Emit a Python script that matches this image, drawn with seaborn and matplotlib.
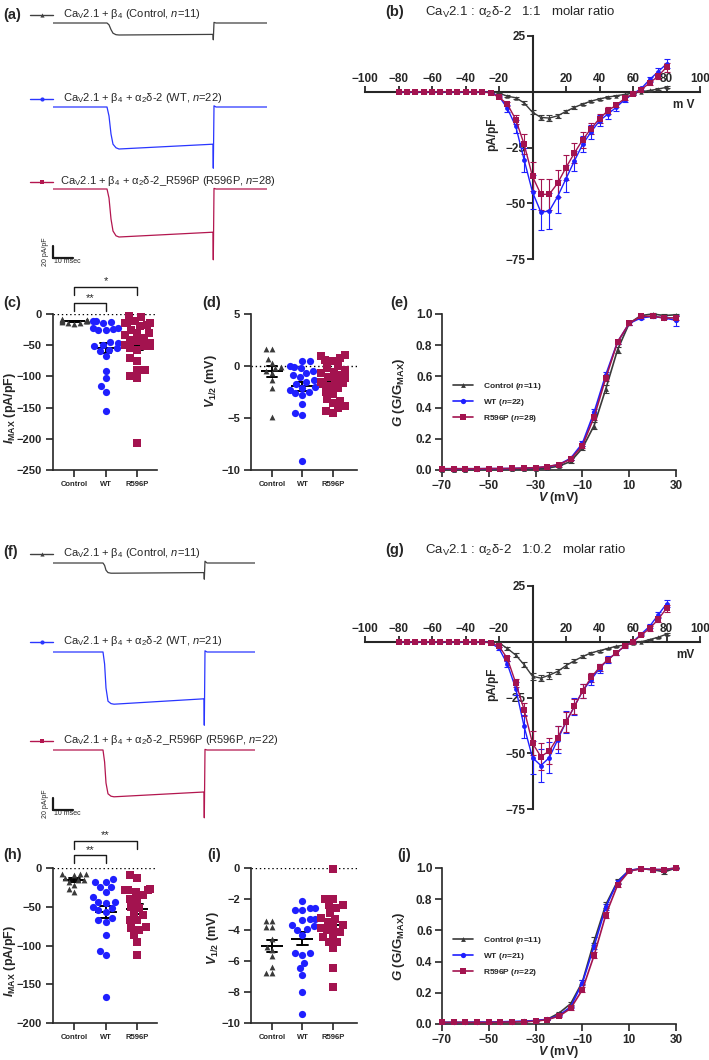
import numpy as np
import pandas as pd
import matplotlib
matplotlib.use("Agg")
import matplotlib.pyplot as plt
import seaborn as sns

# ---------------- data ----------------
groups = ["Control", "WT", "R596P"]

# example current traces (time in ms, current in pA/pF)
t_a = [0, 27, 28, 29, 30, 31.5, 33, 80, 80.15, 80.5, 81.5, 107]
ctrl_trace_a = [0, 0, -3, -11, -17, -19.5, -20, -19, -28, 1, 0, 0]
wt_trace_a = [0, 0, -15, -45, -62, -68, -70, -62, -102, 2, 0, 0]
mut_trace_a = [0, 0, -15, -50, -70, -78, -80, -72, -118, 1, 0, 0]

t_f = [0, 25, 25.8, 26.5, 27.5, 29, 30.5, 75.5, 75.65, 76, 77, 101]
ctrl_trace_f = [0, 0, -4, -12, -16, -17, -17, -16, -27, 3, 0, 0]
wt_trace_f = [0, 0, -20, -60, -82, -86, -87, -78, -122, 2, 0, 0]
mut_trace_f = [0, 0, -20, -55, -73, -77, -78, -70, -113, 1, 0, 0]

# I-V relationships (mV, pA/pF)
v_iv = [-80, -75, -70, -65, -60, -55, -50, -45, -40, -35, -30, -25, -20, -15, -10, -5,
        0, 5, 10, 15, 20, 25, 30, 35, 40, 45, 50, 55, 60, 65, 70, 75, 80]

ctrl_iv_b = [0, 0, 0, 0, 0, 0, 0, 0, 0, 0, 0, 0, -0.6, -2, -2.7, -5, -9.2, -11.5, -11.8, -10.8,
             -8.8, -7, -5.5, -4.2, -3.2, -2.4, -1.8, -1.2, -0.6, 0, 0.6, 1.2, 2]
ctrl_iv_b_err = [0, 0, 0, 0, 0, 0, 0, 0, 0, 0, 0, 0, 0.2, 0.4, 0.5, 0.7, 1, 1.2, 1.2, 1, 0.8,
                 0.6, 0.5, 0.4, 0.4, 0.3, 0.3, 0.2, 0.2, 0.2, 0.2, 0.3, 0.4]
wt_iv_b = [0, 0, 0, 0, 0, 0, 0, 0, 0, 0, 0, -0.5, -2, -7.5, -15.5, -30.5, -45, -54, -53.5, -47,
           -39, -31, -23.5, -18, -13, -10, -7, -3.5, -1, 1.5, 5.5, 9, 12.5]
wt_iv_b_err = [0, 0, 0, 0, 0, 0, 0, 0, 0, 0, 0, 0, 0.5, 1.5, 3, 5.5, 7.5, 8, 8, 7.5, 6, 4.5,
               3.5, 3, 2.5, 2, 1.5, 1, 0.5, 0.5, 1, 1.5, 2]
mut_iv_b = [0, 0, 0, 0, 0, 0, 0, 0, 0, 0, 0, -0.5, -2.5, -5.5, -12.5, -23.5, -38, -46, -46, -41,
            -34, -27.5, -21.5, -16.5, -12, -8.5, -6, -3, -1, 1, 4, 7, 11]
mut_iv_b_err = [0, 0, 0, 0, 0, 0, 0, 0, 0, 0, 0, 0, 0.5, 1, 2, 4.5, 6.5, 7, 7, 6, 5.5, 4.5,
                3.5, 2.5, 2, 1.5, 1, 0.5, 0.3, 0.5, 1, 1.5, 2]

ctrl_iv_g = [0, 0, 0, 0, 0, 0, 0, 0, 0, 0, 0, 0, -0.5, -3, -6, -10.3, -15.5, -16.3, -15, -13.3,
             -10.7, -8.5, -6.6, -5, -4, -3, -2, -1.5, -0.6, 0, 1, 2, 3.4]
ctrl_iv_g_err = [0, 0, 0, 0, 0, 0, 0, 0, 0, 0, 0, 0, 0.3, 0.6, 0.8, 1, 1.5, 1.5, 1.5, 1.3, 1,
                 0.8, 0.6, 0.5, 0.4, 0.4, 0.3, 0.3, 0.2, 0.2, 0.3, 0.3, 0.4]
wt_iv_g = [0, 0, 0, 0, 0, 0, 0, 0, 0, 0, 0, -0.5, -3, -10, -21, -38, -52, -55.5, -52, -44,
           -36, -29, -22, -17, -12, -8, -5, -2, 0, 3.5, 7, 12, 17]
wt_iv_g_err = [0, 0, 0, 0, 0, 0, 0, 0, 0, 0, 0, 0, 0.5, 1.5, 3, 5, 7.5, 7.5, 7, 6, 5, 4, 3,
               2.5, 2, 1.5, 1, 1, 0.5, 0.5, 1, 1.5, 1.5]
mut_iv_g = [0, 0, 0, 0, 0, 0, 0, 0, 0, 0, 0, -0.5, -2, -7.5, -18.5, -30.5, -45.5, -51.5, -49, -43,
            -36, -29, -22, -16, -11.5, -8, -5, -2, 0, 3, 6, 10, 15]
mut_iv_g_err = [0, 0, 0, 0, 0, 0, 0, 0, 0, 0, 0, 0, 0.5, 1, 2, 3, 5.5, 6, 6, 5, 4.5, 3.5, 3,
                2, 1.5, 1, 1, 0.5, 0.5, 0.5, 1, 1, 1.5]

# peak current densities (pA/pF)
ctrl_imax_c = [-8, -10, -12, -13, -15, -11, -9, -14, -12, -16, -10]
wt_imax_c = [-12, -12, -13, -15, -22, -23, -24, -25, -26, -45, -47, -50, -52, -55, -57, -60,
             -67, -91, -103, -116, -125, -156]
mut_imax_c = [-3, -5, -11, -14, -14, -15, -18, -20, -25, -31, -33, -30, -39, -41, -44, -47,
              -50, -51, -52, -55, -58, -71, -76, -90, -90, -100, -103, -207]

ctrl_imax_h = [-7.3, -7.3, -7.3, -9.4, -12.4, -15, -15.8, -18, -22, -26.6, -30.8]
wt_imax_h = [-14.6, -18, -18, -24.6, -24.6, -30.8, -38, -43.7, -43.7, -45.8, -50, -52.2, -54.4,
             -56.5, -64.9, -67.1, -69.2, -86.3, -106.6, -112.2, -167]
mut_imax_h = [-8.6, -12.4, -26.6, -28.7, -28.7, -28.7, -30.8, -35, -40.3, -41.5, -50, -52.2,
              -58.7, -60.8, -67.2, -67.2, -75.8, -77.9, -80, -86.5, -95, -112.2]

# half-activation voltages (mV)
ctrl_v12_d = [1.6, 1.6, 0.7, 0.3, -0.1, -0.2, -0.5, -0.7, -1.3, -2.1, -4.9]
wt_v12_d = [0.5, 0.5, 0, -0.1, -0.2, -0.45, -0.7, -0.9, -1.1, -1.3, -1.5, -1.7, -2.0, -2.1,
            -2.3, -2.5, -2.6, -2.8, -3.7, -4.5, -4.7, -9.1]
mut_v12_d = [1.06, 0.96, 0.74, 0.58, 0.5, 0.0, -0.22, -0.38, -0.54, -0.7, -0.87, -1.03, -1.19,
             -1.35, -1.51, -1.67, -1.73, -1.92, -2.15, -2.47, -2.69, -3.2, -3.33, -3.59, -3.85,
             -4.07, -4.29, -4.55]

ctrl_v12_i = [-3.4, -3.4, -3.8, -3.8, -4.6, -5.1, -5.3, -5.7, -6.4, -6.8, -6.8]
wt_v12_i = [-2.14, -2.55, -2.55, -2.68, -2.72, -3.3, -3.32, -3.36, -3.68, -3.75, -3.96, -4.0,
            -4.33, -5.5, -5.5, -5.6, -6.1, -6.47, -6.9, -8.0, -9.4]
mut_v12_i = [-0.04, -1.97, -1.97, -2.4, -2.4, -2.61, -2.93, -3.25, -3.3, -3.47, -3.68, -3.79,
             -3.9, -4.0, -4.11, -4.26, -4.43, -4.75, -4.75, -5.14, -6.47, -7.69]

# conductance-voltage curves
v_gv = [-70, -65, -60, -55, -50, -45, -40, -35, -30, -25, -20, -15, -10, -5, 0, 5, 10, 15, 20, 25, 30]
ctrl_gv_e = [0.003, 0.003, 0.003, 0.004, 0.004, 0.004, 0.005, 0.006, 0.008, 0.012, 0.025, 0.055,
             0.14, 0.285, 0.52, 0.77, 0.94, 0.99, 1.0, 0.99, 0.995]
wt_gv_e = [0.008, 0.008, 0.008, 0.008, 0.009, 0.009, 0.01, 0.012, 0.015, 0.02, 0.035, 0.075,
           0.17, 0.37, 0.61, 0.82, 0.94, 0.975, 0.985, 0.975, 0.96]
mut_gv_e = [0.008, 0.008, 0.008, 0.008, 0.009, 0.009, 0.01, 0.012, 0.015, 0.022, 0.035, 0.07,
            0.155, 0.34, 0.59, 0.82, 0.94, 0.985, 0.985, 0.975, 0.975]
ctrl_gv_e_err = [0.002, 0.002, 0.002, 0.002, 0.002, 0.002, 0.002, 0.002, 0.003, 0.004, 0.005,
                 0.008, 0.012, 0.02, 0.025, 0.02, 0.012, 0.005, 0.005, 0.008, 0.008]
wt_gv_e_err = [0.002, 0.002, 0.002, 0.002, 0.002, 0.002, 0.002, 0.002, 0.003, 0.004, 0.005,
               0.008, 0.015, 0.02, 0.02, 0.015, 0.01, 0.008, 0.008, 0.01, 0.035]
mut_gv_e_err = [0.002, 0.002, 0.002, 0.002, 0.002, 0.002, 0.002, 0.002, 0.003, 0.004, 0.005,
                0.008, 0.012, 0.018, 0.018, 0.014, 0.01, 0.006, 0.006, 0.008, 0.012]

ctrl_gv_j = [0.01, 0.01, 0.01, 0.01, 0.01, 0.012, 0.013, 0.015, 0.02, 0.03, 0.07, 0.13, 0.27,
             0.53, 0.765, 0.915, 0.985, 0.995, 0.99, 0.975, 1.0]
wt_gv_j = [0.01, 0.01, 0.01, 0.012, 0.012, 0.014, 0.016, 0.018, 0.022, 0.03, 0.055, 0.11, 0.265,
           0.5, 0.75, 0.91, 0.985, 0.995, 0.99, 0.99, 1.0]
mut_gv_j = [0.01, 0.01, 0.01, 0.01, 0.01, 0.012, 0.013, 0.015, 0.018, 0.028, 0.05, 0.1, 0.22,
            0.44, 0.70, 0.89, 0.98, 0.995, 0.99, 0.99, 1.0]
ctrl_gv_j_err = [0.002, 0.002, 0.002, 0.002, 0.002, 0.002, 0.002, 0.002, 0.003, 0.004, 0.006,
                 0.01, 0.015, 0.025, 0.02, 0.012, 0.006, 0.004, 0.005, 0.012, 0.004]
wt_gv_j_err = [0.002, 0.002, 0.002, 0.002, 0.002, 0.002, 0.002, 0.002, 0.003, 0.004, 0.005,
               0.008, 0.015, 0.02, 0.018, 0.01, 0.005, 0.003, 0.004, 0.005, 0.003]
mut_gv_j_err = [0.002, 0.002, 0.002, 0.002, 0.002, 0.002, 0.002, 0.002, 0.003, 0.004, 0.005,
                0.008, 0.014, 0.02, 0.018, 0.01, 0.005, 0.003, 0.004, 0.005, 0.003]

# ---------------- style ----------------
sns.set_theme(style="ticks")
plt.rcParams["font.family"] = ["Liberation Sans", "DejaVu Sans"]
plt.rcParams["mathtext.fontset"] = "custom"
plt.rcParams["mathtext.rm"] = "Liberation Sans"
plt.rcParams["mathtext.it"] = "Liberation Sans:italic"
plt.rcParams["mathtext.bf"] = "Liberation Sans:bold"
plt.rcParams["mathtext.sf"] = "Liberation Sans:bold:italic"
plt.rcParams["axes.linewidth"] = 1.2

C_CTRL, C_WT, C_MUT = "#3a3a3a", "#1f1fff", "#a3134f"
TR_CTRL, TR_WT, TR_MUT = "#404040", "#2a36ff", "#b3164f"

W, H = 709, 1060
fig = plt.figure(figsize=(W / 100, H / 100), dpi=100)


def px_rect(x0, y0, x1, y1):
    return [x0 / W, 1 - y1 / H, (x1 - x0) / W, (y1 - y0) / H]


# overlay in pixel units for panel letters and trace labels
ov = fig.add_axes([0, 0, 1, 1])
ov.set_xlim(0, W)
ov.set_ylim(H, 0)
ov.axis("off")

SCALE = 20 / 12  # pA/pF per pixel in the trace panels


def trace_panel(t, traces, colors, bases, x1, labels, label_x, label_ys, marks, bar_y):
    for tr, c, b, lab, lx, ly, mk in zip(traces, colors, bases, labels, label_x, label_ys, marks):
        ax = fig.add_axes(px_rect(53, b - 5, x1, b + 75))
        sns.lineplot(x=t, y=tr, color=c, linewidth=0.9, ax=ax, sort=False)
        ax.set_xlim(0, t[-1])
        ax.set_ylim(-75 * SCALE, 5 * SCALE)
        ax.axis("off")
        ov.plot([30, 53], [ly, ly], color=c, lw=1)
        ov.plot([41.5], [ly], color=c, marker=mk, ms=3, mew=0)
        ov.text(lx, ly - 1, lab, fontsize=8, va="center", ha="left")
    # scale bar: 20 pA/pF x 10 ms
    ax.plot([0, 0], [bar_y, bar_y + 20], color="k", lw=1.6, clip_on=False)
    ax.plot([0, 10], [bar_y, bar_y], color="k", lw=1.6, clip_on=False)
    ax.text(-3.5, bar_y + 10, "20 pA/pF", rotation=90, fontsize=5, ha="center", va="center")
    ax.text(0.5, bar_y - 6, "10 msec", fontsize=5, ha="left", va="center")


def trace_labels(n_ctrl, n_wt, n_mut):
    return [r"Ca$_\mathrm{V}$2.1 + β$_4$ (Control, $n$=%d)" % n_ctrl,
            r"Ca$_\mathrm{V}$2.1 + β$_4$ + α$_2$δ-2 (WT, $n$=%d)" % n_wt,
            r"Ca$_\mathrm{V}$2.1 + β$_4$ + α$_2$δ-2_R596P (R596P, $n$=%d)" % n_mut]


trace_panel(t_a, [ctrl_trace_a, wt_trace_a, mut_trace_a], [TR_CTRL, TR_WT, TR_MUT],
            [23, 107, 189], 267, trace_labels(11, 22, 28), [63, 63, 60], [15, 99, 182],
            ["^", "o", "s"], -115)
trace_panel(t_f, [ctrl_trace_f, wt_trace_f, mut_trace_f], [TR_CTRL, TR_WT, TR_MUT],
            [563, 652, 750], 255, trace_labels(11, 21, 22), [63, 63, 63], [554, 642, 741],
            ["^", "o", "s"], -100)


def iv_panel(rect, series, xlab):
    ax = fig.add_axes(px_rect(*rect))
    for vals, errs, c, mk, ms in series:
        ax.errorbar(v_iv, vals, yerr=errs, fmt="none", ecolor=c, elinewidth=0.8, capsize=2,
                    capthick=0.8, zorder=3, clip_on=False)
        sns.lineplot(x=v_iv, y=vals, color=c, marker=mk, markersize=ms, markeredgewidth=0,
                     linewidth=1, ax=ax, zorder=4, clip_on=False)
    ax.set_xlim(-100, 100)
    ax.set_ylim(-75, 25)
    ax.spines["left"].set_position(("data", 0))
    ax.spines["top"].set_position(("data", 0))
    ax.spines["right"].set_visible(False)
    ax.spines["bottom"].set_visible(False)
    ax.spines["left"].set_linewidth(1.5)
    ax.spines["top"].set_linewidth(1.5)
    ax.tick_params(axis="x", top=True, labeltop=True, bottom=False, labelbottom=False,
                   length=4, width=1.3, pad=1)
    ax.tick_params(axis="y", length=4, width=1.3, pad=1)
    ax.set_xticks([-100, -80, -60, -40, -20, 20, 40, 60, 80, 100])
    ax.set_yticks([25, -25, -50, -75])
    for lab in ax.get_xticklabels() + ax.get_yticklabels():
        lab.set_fontweight("bold")
        lab.set_fontsize(8.5)
    ax.set_xlabel("")
    ax.set_ylabel("")
    ax.text(0.379, 0.56, "pA/pF", transform=ax.transAxes, rotation=90, fontsize=8.5,
            fontweight="bold", ha="center", va="center")
    ax.text(0.985, 0.69, xlab, transform=ax.transAxes, fontsize=8.5, fontweight="bold",
            ha="right", va="center")
    return ax


iv_panel((365, 36, 700, 259),
         [(ctrl_iv_b, ctrl_iv_b_err, C_CTRL, "^", 3.2),
          (wt_iv_b, wt_iv_b_err, C_WT, "o", 3.5),
          (mut_iv_b, mut_iv_b_err, C_MUT, "s", 4.2)], "m V")
iv_panel((365, 586, 700, 809),
         [(ctrl_iv_g, ctrl_iv_g_err, C_CTRL, "^", 3.2),
          (wt_iv_g, wt_iv_g_err, C_WT, "o", 3.5),
          (mut_iv_g, mut_iv_g_err, C_MUT, "s", 4.2)], "mV")


def dot_panel(rect, vals, ylim, yticks, ylabel, label_xy, xlim):
    ax = fig.add_axes(px_rect(*rect))
    df = pd.DataFrame({"group": np.repeat(groups, [len(v) for v in vals]),
                       "value": np.concatenate(vals)})
    for g, mk, c, s in zip(groups, ["^", "o", "s"], [C_CTRL, C_WT, C_MUT], [4.2, 5.2, 5.2]):
        sns.swarmplot(data=df[df["group"] == g], x="group", y="value", order=groups,
                      marker=mk, color=c, size=s, linewidth=0, ax=ax, clip_on=False)
    sns.pointplot(data=df, x="group", y="value", order=groups, errorbar="se", color="black",
                  capsize=0.35, marker="_", markersize=16, markeredgewidth=1.4,
                  linestyle="none", err_kws={"linewidth": 1.4}, ax=ax)
    ax.axhline(0, color="black", linestyle=(0, (1, 2)), linewidth=1, zorder=0)
    ax.set_xlim(*xlim)
    ax.set_ylim(*ylim)
    ax.set_yticks(yticks)
    sns.despine(ax=ax)
    ax.tick_params(length=5, width=1.2, pad=3)
    ax.set_xticks([0, 1, 2])
    ax.set_xticklabels(groups, fontsize=5.5, fontweight="bold")
    for lab in ax.get_yticklabels():
        lab.set_fontweight("bold")
        lab.set_fontsize(8)
    ax.set_xlabel("")
    ax.set_ylabel(ylabel, fontsize=9, fontweight="bold")
    ax.yaxis.set_label_coords(*label_xy)
    return ax


def bracket(ax, x0, x1, y_top, y_low, y_txt, txt):
    ax.plot([x0, x0, x1, x1], [y_low, y_top, y_top, y_low], color="k", lw=1, clip_on=False)
    ax.text((x0 + x1) / 2, y_txt, txt, ha="center", va="center", fontsize=8)


imax_label = r"$\mathsf{I}_{\mathbf{MAX}}$ (pA/pF)"
v12_label = r"$\mathsf{V}_{\mathbf{1/2}}$ (mV)"

ax_c = dot_panel((53, 314, 157, 470), [ctrl_imax_c, wt_imax_c, mut_imax_c], (-250, 0),
                 [0, -50, -100, -150, -200, -250], imax_label, (-0.34, 0.4), (-0.67, 2.63))
bracket(ax_c, 0, 1, 17.6, 4.8, 26, "**")
bracket(ax_c, 0, 2, 43.3, 30.4, 52, "*")
dot_panel((251, 314, 357, 470), [ctrl_v12_d, wt_v12_d, mut_v12_d], (-10, 5),
          [5, 0, -5, -10], v12_label, (-0.3, 0.57), (-0.69, 2.79))
ax_h = dot_panel((53, 868, 157, 1023), [ctrl_imax_h, wt_imax_h, mut_imax_h], (-200, 0),
                 [0, -50, -100, -150, -200], imax_label, (-0.34, 0.4), (-0.67, 2.63))
bracket(ax_h, 0, 1, 16.8, 6.5, 23, "**")
bracket(ax_h, 0, 2, 34.8, 24.5, 42, "**")
dot_panel((251, 868, 357, 1023), [ctrl_v12_i, wt_v12_i, mut_v12_i], (-10, 0),
          [0, -2, -4, -6, -8, -10], v12_label, (-0.28, 0.55), (-0.69, 2.79))


def gv_panel(rect, series):
    ax = fig.add_axes(px_rect(*rect))
    for vals, errs, c, mk, ms, lab in series:
        ax.errorbar(v_gv, vals, yerr=errs, fmt="none", ecolor=c, elinewidth=0.8, capsize=2,
                    capthick=0.8, zorder=3, clip_on=False)
        sns.lineplot(x=v_gv, y=vals, color=c, marker=mk, markersize=ms, markeredgewidth=0,
                     linewidth=1.2, ax=ax, zorder=4, clip_on=False, label=lab)
    ax.set_xlim(-70, 30)
    ax.set_ylim(0, 1)
    ax.set_xticks([-70, -50, -30, -10, 10, 30])
    ax.set_yticks([0, 0.2, 0.4, 0.6, 0.8, 1.0])
    ax.yaxis.set_major_formatter(matplotlib.ticker.FormatStrFormatter("%.1f"))
    sns.despine(ax=ax)
    ax.tick_params(length=5, width=1.2, pad=2)
    for lab in ax.get_xticklabels() + ax.get_yticklabels():
        lab.set_fontweight("bold")
        lab.set_fontsize(8.5)
    ax.set_xlabel(r"$\mathsf{V}$ (mV)", fontsize=9, fontweight="bold")
    ax.xaxis.set_label_coords(0.5, -0.13)
    ax.set_ylabel(r"$\mathsf{G}$ (G/G$_{\mathbf{MAX}}$)", fontsize=9.5, fontweight="bold")
    ax.yaxis.set_label_coords(-0.15, 0.5)
    ax.legend(loc="upper left", bbox_to_anchor=(0.03, 0.6), frameon=False,
              prop={"weight": "bold", "size": 6}, handlelength=2.4, labelspacing=0.6,
              borderpad=0, handletextpad=1.2)
    return ax


gv_panel((442, 314, 676, 470),
         [(ctrl_gv_e, ctrl_gv_e_err, C_CTRL, "^", 3.5, r"Control ($\mathsf{n}$=11)"),
          (wt_gv_e, wt_gv_e_err, C_WT, "o", 3.8, r"WT ($\mathsf{n}$=22)"),
          (mut_gv_e, mut_gv_e_err, C_MUT, "s", 4.2, r"R596P ($\mathsf{n}$=28)")])
gv_panel((442, 868, 676, 1024),
         [(ctrl_gv_j, ctrl_gv_j_err, C_CTRL, "^", 3.5, r"Control ($\mathsf{n}$=11)"),
          (wt_gv_j, wt_gv_j_err, C_WT, "o", 3.8, r"WT ($\mathsf{n}$=21)"),
          (mut_gv_j, mut_gv_j_err, C_MUT, "s", 4.2, r"R596P ($\mathsf{n}$=22)")])

# panel letters and titles
for lab, x, y in [("(a)", 3, 15), ("(b)", 385, 12), ("(c)", 3, 303), ("(d)", 202, 303),
                  ("(e)", 390, 303), ("(f)", 3, 552), ("(g)", 385, 550), ("(h)", 3, 855),
                  ("(i)", 207, 855), ("(j)", 397, 855)]:
    ov.text(x, y, lab, fontsize=10.5, fontweight="bold", ha="left", va="center")
ov.text(425, 12, r"Ca$_\mathrm{V}$2.1 : α$_2$δ-2   1:1   molar ratio", fontsize=9.5,
        ha="left", va="center")
ov.text(425, 550, r"Ca$_\mathrm{V}$2.1 : α$_2$δ-2   1:0.2   molar ratio", fontsize=9.5,
        ha="left", va="center")

fig.savefig("out.png", dpi=100)
